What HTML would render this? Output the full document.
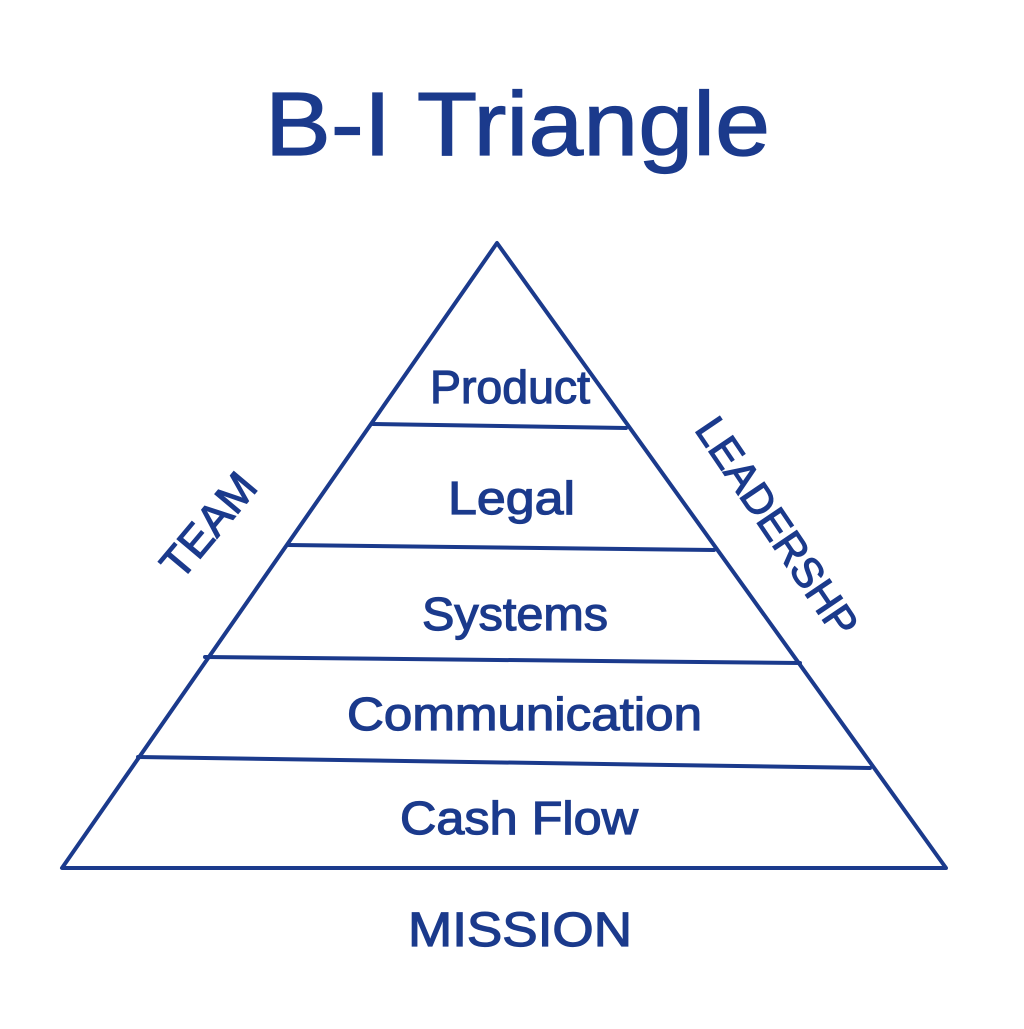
<!DOCTYPE html>
<html><head><meta charset="utf-8"><style>
html,body{margin:0;padding:0;background:#fff;}
body{width:1024px;height:1024px;overflow:hidden;}
svg text{font-family:"Liberation Sans",sans-serif;fill:#1b3a8c;stroke:#1b3a8c;stroke-width:1.2px;}
</style></head><body>
<svg width="1024" height="1024" viewBox="0 0 1024 1024">
<g stroke="#1b3a8c" stroke-width="4" fill="none" stroke-linecap="round" stroke-linejoin="round">
<polygon points="497,243 62,868 946,868"/>
<line x1="373" y1="424" x2="626" y2="428"/>
<line x1="288" y1="545" x2="714" y2="550"/>
<line x1="205" y1="657" x2="800" y2="663"/>
<line x1="138" y1="757" x2="870" y2="768"/>
</g>
<text x="265" y="155" font-size="90" textLength="505" lengthAdjust="spacingAndGlyphs">B-I Triangle</text>
<text x="430" y="403" font-size="46" textLength="160" lengthAdjust="spacingAndGlyphs">Product</text>
<text x="448" y="514" font-size="46" textLength="127" lengthAdjust="spacingAndGlyphs">Legal</text>
<text x="422" y="630" font-size="46" textLength="186" lengthAdjust="spacingAndGlyphs">Systems</text>
<text x="347" y="730" font-size="46" textLength="355" lengthAdjust="spacingAndGlyphs">Communication</text>
<text x="400" y="834" font-size="46" textLength="238" lengthAdjust="spacingAndGlyphs">Cash Flow</text>
<text x="408" y="946" font-size="48" textLength="224" lengthAdjust="spacingAndGlyphs">MISSION</text>
<text x="0" y="0" font-size="44" text-anchor="middle" transform="translate(220,535) rotate(-50)">TEAM</text>
<text x="0" y="0" font-size="42" text-anchor="middle" transform="translate(765,535) rotate(56)">LEADERSHP</text>
</svg>
</body></html>
